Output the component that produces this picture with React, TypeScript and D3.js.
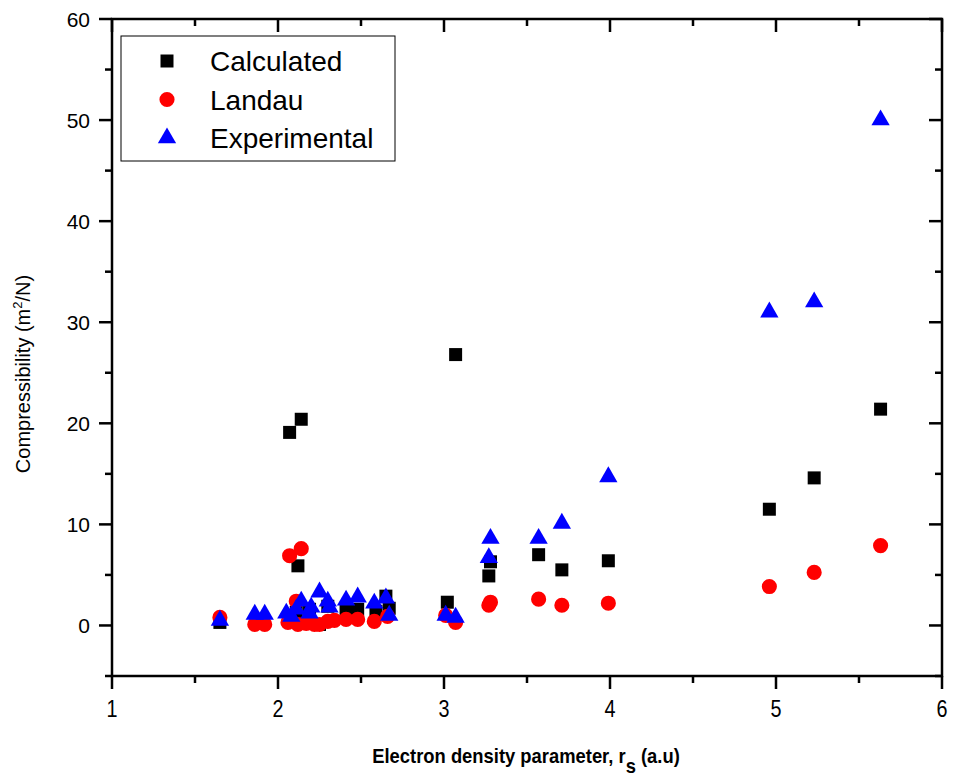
import React from "react";
import * as d3 from "d3";

// Calculated
const calcX = [1.65, 2.07, 2.14, 2.12, 2.11, 2.19, 2.25, 2.3, 2.41, 2.48, 2.59, 2.65, 2.67, 3.02, 3.07, 3.27, 3.28, 3.57, 3.71, 3.99, 4.96, 5.23, 5.63];
const calcY = [0.3, 19.1, 20.4, 5.9, 1.3, 1.6, 0.1, 1.9, 1.6, 1.6, 1.4, 2.9, 1.7, 2.3, 26.8, 4.9, 6.3, 7.0, 5.5, 6.4, 11.5, 14.6, 21.4];

// Landau
const landauX = [1.65, 1.86, 1.92, 2.06, 2.07, 2.11, 2.14, 2.12, 2.17, 2.22, 2.25, 2.3, 2.34, 2.41, 2.48, 2.58, 2.66, 3.01, 3.07, 3.27, 3.28, 3.57, 3.71, 3.99, 4.96, 5.23, 5.63];
const landauY = [0.8, 0.1, 0.1, 0.3, 6.9, 2.4, 7.6, 0.1, 0.2, 0.1, 0.1, 0.4, 0.5, 0.6, 0.6, 0.4, 0.9, 1.0, 0.3, 2.0, 2.3, 2.6, 2.0, 2.2, 3.85, 5.25, 7.9];

// Experimental
const expX = [1.65, 1.86, 1.92, 2.05, 2.08, 2.11, 2.14, 2.19, 2.2, 2.25, 2.3, 2.31, 2.41, 2.48, 2.58, 2.65, 2.67, 3.01, 3.07, 3.27, 3.28, 3.57, 3.71, 3.99, 4.96, 5.23, 5.63];
const expY = [0.5, 1.1, 1.1, 1.2, 0.9, 1.6, 2.4, 1.2, 1.8, 3.3, 2.4, 1.8, 2.5, 2.8, 2.2, 2.7, 1.0, 1.0, 0.8, 6.7, 8.6, 8.6, 10.1, 14.7, 31.0, 32.0, 50.0];

const xTicks = [1, 2, 3, 4, 5, 6];
const xMinor = [1.5, 2.5, 3.5, 4.5, 5.5];
const yTicks = [0, 10, 20, 30, 40, 50, 60];
const yMinor = [-5, 5, 15, 25, 35, 45, 55];

const legendNames = ["Calculated", "Landau", "Experimental"];

const W = 955;
const H = 778;
const left = 112;
const right = 942;
const top = 19;
const bottom = 676;

const font = "'Liberation Sans', Arial, Helvetica, sans-serif";

const square = d3.symbol(d3.symbolSquare, 169)();
const circle = d3.symbol(d3.symbolCircle, 180)();
const triangle = d3.symbol(d3.symbolTriangle, 145)();

export default function App() {
  const x = d3.scaleLinear().domain([1, 6]).range([left, right]);
  const y = d3.scaleLinear().domain([-5, 60]).range([bottom, top]);

  const markers = [
    { xs: calcX, ys: calcY, path: square, fill: "#000000" },
    { xs: landauX, ys: landauY, path: circle, fill: "#ff0000" },
    { xs: expX, ys: expY, path: triangle, fill: "#0000ff" },
  ];

  return (
    <svg width={W} height={H} style={{ position: "absolute", left: 0, top: 0, background: "#fff" }} fontFamily={font}>
      {/* points */}
      {markers.map((m, si) => (
        <g key={si} fill={m.fill}>
          {m.xs.map((xv, i) => (
            <path key={i} d={m.path!} transform={`translate(${x(xv)},${y(m.ys[i])})`} />
          ))}
        </g>
      ))}

      {/* frame */}
      <rect x={left} y={top} width={right - left} height={bottom - top} fill="none" stroke="#000" strokeWidth={2.5} />

      {/* x ticks bottom (outward) and top (inward) */}
      {xTicks.map((t) => (
        <g key={"xt" + t}>
          <line x1={x(t)} x2={x(t)} y1={bottom} y2={bottom + 13} stroke="#000" strokeWidth={2.5} />
          <line x1={x(t)} x2={x(t)} y1={top} y2={top + 13} stroke="#000" strokeWidth={2.5} />
          <text transform={`translate(${x(t)},717) scale(0.9,1.1)`} textAnchor="middle" fontSize={22}>
            {t}
          </text>
        </g>
      ))}
      {xMinor.map((t) => (
        <g key={"xm" + t}>
          <line x1={x(t)} x2={x(t)} y1={bottom} y2={bottom + 7} stroke="#000" strokeWidth={2.5} />
          <line x1={x(t)} x2={x(t)} y1={top} y2={top + 7} stroke="#000" strokeWidth={2.5} />
        </g>
      ))}

      {/* y ticks left (outward) and right (inward) */}
      {yTicks.map((t) => (
        <g key={"yt" + t}>
          <line x1={left - 13} x2={left} y1={y(t)} y2={y(t)} stroke="#000" strokeWidth={2.5} />
          <line x1={right - 13} x2={right} y1={y(t)} y2={y(t)} stroke="#000" strokeWidth={2.5} />
          <text x={90} y={y(t) + 7.5} textAnchor="end" fontSize={21}>
            {t}
          </text>
        </g>
      ))}
      {yMinor.map((t) => (
        <g key={"ym" + t}>
          <line x1={left - 7} x2={left} y1={y(t)} y2={y(t)} stroke="#000" strokeWidth={2.5} />
          <line x1={right - 7} x2={right} y1={y(t)} y2={y(t)} stroke="#000" strokeWidth={2.5} />
        </g>
      ))}

      {/* axis titles */}
      <text transform="translate(526,763) scale(0.92,1)" textAnchor="middle" fontSize={20} fontWeight="bold">
        Electron density parameter, r
        <tspan fontSize={20} dy={10}>s</tspan>
        <tspan dy={-10}> (a.u)</tspan>
      </text>
      <text transform="translate(30,374) rotate(-90)" textAnchor="middle" fontSize={20}>
        Compressibility (m
        <tspan fontSize={13} dy={-8}>2</tspan>
        <tspan dy={8}>/N)</tspan>
      </text>

      {/* legend */}
      <rect x={121} y={36} width={274} height={125} fill="#fff" stroke="#000" strokeWidth={1} />
      {legendNames.map((name, i) => {
        const ry = 61 + i * 38.5;
        return (
          <g key={name}>
            <path d={markers[i].path!} fill={markers[i].fill} transform={`translate(167,${ry})`} />
            <text x={210} y={ry + 10} fontSize={28}>
              {name}
            </text>
          </g>
        );
      })}
    </svg>
  );
}
